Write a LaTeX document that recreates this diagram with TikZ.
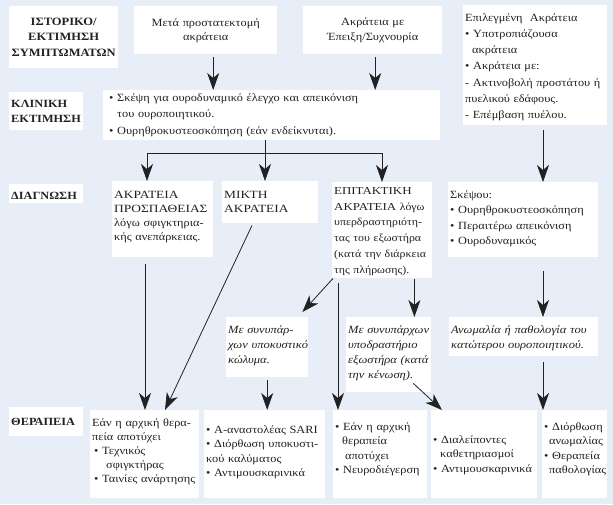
\documentclass[tikz,border=0pt]{standalone}
\usepackage{fontspec}
\setmainfont{Liberation Serif}[FakeStretch=1.12]
\newfontfamily\capfont{Liberation Serif}[FakeStretch=1.22]
\newfontfamily\notefont{Liberation Serif}[FakeStretch=1.14]
\usetikzlibrary{arrows.meta,calc}
\definecolor{bgblue}{HTML}{E8EEF7}
\definecolor{inkgray}{HTML}{222222}
\begin{document}
\begin{tikzpicture}[x=1pt,y=-1pt,
  box/.style={fill=white,anchor=north west,inner xsep=2pt,inner ysep=0pt,
    align=left,text=inkgray,font=\fontsize{11}{14.5}\selectfont},
  head/.style={box,font=\bfseries\fontsize{11}{15}\selectfont},
  note/.style={box,font=\notefont\itshape\fontsize{11}{15}\selectfont},
  link/.style={draw=inkgray,line width=0.8pt},
  arr/.style={link,-{Stealth[length=17pt,width=12pt,inset=5pt]}}]
  % Background
  \fill[bgblue] (0,0) rectangle (613,504);
  \useasboundingbox (0,0) rectangle (613,504);
  % Row headings
  \node[head,align=center,inner xsep=1pt,text width=107pt,text height=19pt,text depth=43pt,font=\bfseries\fontsize{11.2}{15.5}\selectfont] (lhist) at (9,6) {ΙΣΤΟΡΙΚΟ/\\ΕΚΤΙΜΗΣΗ\\ΣΥΜΠΤΩΜΑΤΩΝ};
  \node[head,text width=70pt,text height=15pt,text depth=23pt] (lclin) at (9,92) {ΚΛΙΝΙΚΗ\\ΕΚΤΙΜΗΣΗ};
  \node[head,text width=70pt,text height=15pt,text depth=4pt] (ldiag) at (9,184) {ΔΙΑΓΝΩΣΗ};
  \node[head,text width=70pt,text height=18pt,text depth=11pt] (lther) at (9,407) {ΘΕΡΑΠΕΙΑ};
  % Symptoms
  \node[box,align=center,text width=139pt,text height=20pt,text depth=28pt] (post) at (134,6) {Μετά προστατεκτομή\\ακράτεια};
  \node[box,align=center,text width=135pt,text height=19pt,text depth=29pt,font=\fontsize{11}{15}\selectfont] (urgq) at (303,6) {Ακράτεια με\\Έπειξη/Συχνουρία};
  \node[box,text width=140pt,text height=16pt,text depth=104pt,font=\fontsize{11}{16.2}\selectfont] (sel) at (463,5) {Επιλεγμένη \ Ακράτεια\\•~Υποτροπιάζουσα\\\hspace*{7pt}ακράτεια\\•~Ακράτεια με:\\- Ακτινοβολή προστάτου ή\\πυελικού εδάφους.\\- Επέμβαση πυέλου.};
  % Clinical assessment
  \node[box,text width=333pt,text height=11pt,text depth=39pt,font=\fontsize{11}{16.5}\selectfont] (clin) at (103,90) {\hspace*{4pt}•~Σκέψη για ουροδυναμικό έλεγχο και απεικόνιση\\\hspace*{12pt}του ουροποιητικού.\\\hspace*{4pt}•~Ουρηθροκυστεοσκόπηση (εάν ενδείκνυται).};
  % Diagnosis
  \node[box,text width=97pt,text height=17pt,text depth=59pt,font=\fontsize{11}{14}\selectfont] (stress) at (112,181) {{\capfont ΑΚΡΑΤΕΙΑ}\\{\capfont ΠΡΟΣΠΑΘΕΙΑΣ}\\λόγω σφιγκτηρια-\\κής ανεπάρκειας.};
  \node[box,text width=92pt,text height=17pt,text depth=25pt] (mixed) at (222,181) {{\capfont ΜΙΚΤΗ}\\{\capfont ΑΚΡΑΤΕΙΑ}};
  \node[box,text width=96pt,text height=12pt,text depth=84pt,font=\fontsize{10.6}{15.8}\selectfont] (urge) at (332,182) {{\capfont ΕΠΙΤΑΚΤΙΚΗ}\\{\capfont ΑΚΡΑΤΕΙΑ} λόγω\\υπερδραστηριότη-\\τας του εξωστήρα\\(κατά~την~διάρκεια\\της πλήρωσης).};
  \node[box,text width=146pt,text height=16pt,text depth=59pt,font=\fontsize{11}{15.5}\selectfont] (think) at (448,182) {Σκέψου:\\•~Ουρηθροκυστεοσκόπηση\\•~Περαιτέρω απεικόνιση\\•~Ουροδυναμικός};
  % Coexisting findings
  \node[note,text width=78pt,text height=16pt,text depth=44pt] (obst) at (226,317) {Με συνυπάρ-\\χων~υποκυστικό\\κώλυμα.};
  \node[note,text width=81pt,text height=16pt,text depth=59pt] (hypo) at (346,317) {Με συνυπάρχων\\υποδραστήριο\\εξωστήρα~(κατά\\την κένωση).};
  \node[note,text width=145pt,text height=16pt,text depth=23pt] (anom) at (449,317) {Ανωμαλία ή παθολογία του\\κατώτερου ουροποιητικού.};
  % Treatment
  \node[box,text width=105pt,text height=16pt,text depth=72pt,font=\fontsize{11}{14}\selectfont] (tsling) at (90,410) {Εάν η αρχική θερα-\\πεία αποτύχει\\\hspace*{2pt}•~Τεχνικός\\\hspace*{14pt}σφιγκτήρας\\\hspace*{2pt}•~Ταινίες ανάρτησης};
  \node[box,text width=117pt,text height=23pt,text depth=65pt] (tsari) at (204,410) {•~Α-αναστολέας SARI\\•~Διόρθωση υποκυστι-\\κού καλύματος\\•~Αντιμουσκαρινικά};
  \node[box,text width=90pt,text height=20pt,text depth=68pt] (tneuro) at (333,410) {•~Εάν η αρχική\\\hspace*{7pt}θεραπεία\\\hspace*{10pt}αποτύχει\\•~Νευροδιέγερση};
  \node[box,text width=102pt,text height=33pt,text depth=55pt] (tcath) at (431,410) {•~Διαλείποντες\\\hspace*{7pt}καθετηριασμοί\\•~Αντιμουσκαρινικά};
  \node[box,text width=61pt,text height=20pt,text depth=68pt] (tfix) at (542,410) {•~Διόρθωση\\\hspace*{5pt}ανωμαλίας\\•~Θεραπεία\\\hspace*{5pt}παθολογίας};
  % Symptoms to assessment
  \path (post.south) ++(7.5,0) coordinate (a1);
  \path (urgq.south) ++(2.5,0) coordinate (a2);
  \path (sel.south west) ++(80,0) coordinate (a3);
  \draw[arr,shorten <=3pt] (a1) -- (a1 |- clin.north);
  \draw[arr,shorten <=3pt] (a2) -- (a2 |- clin.north);
  \draw[arr,shorten <=5pt] (a3) -- (a3 |- think.north);
  % Fork under the assessment
  \path (clin.south) ++(0,13) coordinate (fk);
  \path (stress.north west) ++(35,0) coordinate (b1);
  \path (mixed.north west) ++(43,0) coordinate (b2);
  \path (urge.north west) ++(50,0) coordinate (b3);
  \draw[link] (clin.south -| b2) -- (b2 |- fk) (b1 |- fk) -- (b3 |- fk);
  \draw[arr] (b1 |- fk) -- (b1);
  \draw[arr] (b2 |- fk) -- (b2);
  \draw[arr] (b3 |- fk) -- (b3);
  % Diagnosis to treatment
  \path (stress.south west) ++(33,0) coordinate (c1);
  \path (urge.south west) ++(6,0) coordinate (c2);
  \path (urge.south east) ++(-18,0) coordinate (c3);
  \draw[arr,shorten <=7pt] (c1) -- (c1 |- tsling.north);
  \draw[arr] ($(mixed.south west)+(30,2)$) -- ($(tsling.north west)+(75,0)$);
  \draw[arr] ($(urge.south west)+(1,0)$) -- ($(obst.north east)+(-6,-5)$);
  \draw[arr,shorten <=5pt] (c2) -- (c2 |- tneuro.north);
  \draw[arr,shorten <=1pt] (c3) -- (c3 |- hypo.north);
  \draw[arr,shorten <=3pt] (obst.south) -- (obst.south |- tsari.north);
  \draw[arr] ($(hypo.south east)+(-18,-9)$) -- ($(tcath.north west)+(11,0)$);
  \draw[arr,shorten <=14pt] (a3 |- think.south) -- (a3 |- anom.north);
  \draw[arr,shorten <=6pt] (a3 |- anom.south) -- (a3 |- tfix.north);
\end{tikzpicture}
\end{document}
